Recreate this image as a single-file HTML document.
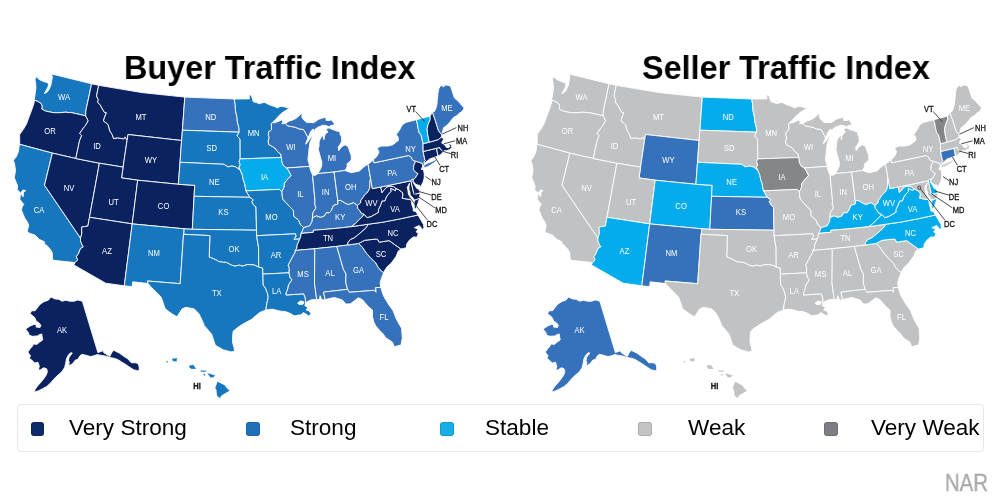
<!DOCTYPE html>
<html><head><meta charset="utf-8"><style>
html,body{margin:0;padding:0;background:#fff;-webkit-font-smoothing:antialiased;}
.t,.lt,.nar,svg{will-change:transform;}
body{width:1000px;height:500px;position:relative;overflow:hidden;font-family:"Liberation Sans",Arial,sans-serif;}
.t{position:absolute;font-weight:bold;font-size:34px;color:#000;line-height:1;white-space:nowrap;transform:scaleX(0.952);transform-origin:0 0;}
svg{position:absolute;left:0;top:0;filter:blur(0.3px);}
.lg{position:absolute;left:17px;top:404px;width:966.5px;height:47.5px;border:1px solid #e8e8e8;border-radius:4px;box-sizing:border-box;}
.sq{position:absolute;top:421.5px;width:13.5px;height:14.6px;border-radius:3px;box-sizing:border-box;border:0.8px solid rgba(0,0,0,0.12);}
.lt{position:absolute;top:417.4px;font-size:22px;line-height:1;color:#000;white-space:nowrap;transform:scaleX(1.025);transform-origin:0 0;}
.nar{position:absolute;left:945.2px;top:471.9px;font-size:23px;font-weight:normal;color:#aaaaaa;line-height:1;transform:scaleX(0.885);transform-origin:0 0;-webkit-text-stroke:0.35px #aaaaaa;}
</style></head><body>
<div class="t" style="left:124.2px;top:50px">Buyer Traffic Index</div>
<div class="t" style="left:642.3px;top:50px">Seller Traffic Index</div>
<svg width="1000" height="500" viewBox="0 0 1000 500">
<g stroke="#fff" stroke-width="0.9" stroke-linejoin="round"><path d="M34.0 99.8L34.8 96.3L35.3 92.4L35.9 88.1L35.7 83.5L35.0 79.9L35.7 76.4L37.7 78.1L40.2 80.1L43.6 81.5L46.4 82.4L48.5 83.2L48.2 86.5L46.1 90.4L44.4 93.6L46.2 92.7L48.2 91.0L49.7 88.0L50.9 85.0L51.5 81.8L52.4 77.0L51.4 73.9L91.6 83.8L85.8 111.0L85.7 115.8L70.5 112.4L70.2 112.7L65.7 112.2L58.4 112.8L53.0 112.6L45.5 111.1L41.7 109.0L42.1 106.2L41.2 103.7L38.6 101.9L34.0 99.8Z" fill="#1676be"/><path d="M19.7 144.3L19.6 134.6L23.4 129.3L26.7 123.5L28.9 117.3L32.4 108.0L34.6 100.7L34.0 99.8L38.6 101.9L41.2 103.7L42.1 106.2L41.7 109.0L45.5 111.1L53.0 112.6L58.4 112.8L65.7 112.2L70.2 112.7L70.5 112.4L85.7 115.8L88.2 120.8L85.3 125.8L83.3 128.1L79.7 133.5L81.7 135.6L79.6 140.5L75.8 158.5L52.4 153.1L19.7 144.3Z" fill="#0a2360"/><path d="M53.2 260.3L52.5 257.7L52.2 252.6L50.2 249.2L46.5 245.1L44.7 244.7L44.5 241.8L39.5 239.5L35.0 235.1L28.5 232.9L27.3 231.1L28.7 225.5L27.6 222.4L24.7 218.0L21.4 210.0L22.2 206.8L23.8 204.3L22.4 202.7L19.8 199.3L20.6 193.2L17.2 189.4L17.7 186.1L14.3 177.7L15.5 170.6L14.7 164.6L13.4 160.3L16.1 157.0L18.4 151.9L19.0 147.0L19.7 144.3L52.4 153.1L44.5 185.2L80.5 238.1L80.5 240.9L81.9 244.5L83.4 246.8L80.4 248.7L78.5 253.8L76.4 256.4L77.6 259.9L75.1 262.6L53.2 260.3Z" fill="#1676be"/><path d="M52.4 153.1L75.8 158.5L99.4 163.2L89.5 217.3L87.9 226.1L84.7 226.5L81.6 227.1L81.7 229.3L81.8 233.9L80.5 238.1L44.5 185.2L52.4 153.1Z" fill="#0a2360"/><path d="M91.6 83.8L98.7 85.3L96.5 96.1L98.3 99.5L97.7 102.5L100.2 104.8L102.3 108.8L104.6 112.5L106.4 112.7L104.3 117.9L103.5 121.0L106.9 123.5L108.2 124.7L109.8 130.9L112.0 134.2L113.6 138.6L117.3 137.8L123.8 138.9L125.1 136.9L127.1 140.1L123.1 167.1L99.4 163.2L75.8 158.5L79.6 140.5L81.7 135.6L79.7 133.5L83.3 128.1L85.3 125.8L88.2 120.8L85.7 115.8L85.8 111.0L91.6 83.8Z" fill="#0a2360"/><path d="M98.7 85.3L141.9 92.6L184.8 97.1L182.4 130.2L181.6 140.5L128.0 134.5L127.1 140.1L125.1 136.9L123.8 138.9L117.3 137.8L113.6 138.6L112.0 134.2L109.8 130.9L108.2 124.7L106.9 123.5L103.5 121.0L104.3 117.9L106.4 112.7L104.6 112.5L102.3 108.8L100.2 104.8L97.7 102.5L98.3 99.5L96.5 96.1L98.7 85.3Z" fill="#0a2360"/><path d="M127.1 140.1L128.0 134.5L181.6 140.5L180.0 162.3L178.4 184.3L137.7 180.2L121.5 177.9L123.1 167.1L127.1 140.1Z" fill="#0a2360"/><path d="M99.4 163.2L123.1 167.1L121.5 177.9L137.7 180.2L132.2 223.9L89.5 217.3L99.4 163.2Z" fill="#0a2360"/><path d="M89.5 217.3L132.2 223.9L124.3 285.8L105.7 283.2L73.8 264.9L75.1 262.6L77.6 259.9L76.4 256.4L78.5 253.8L80.4 248.7L83.4 246.8L81.9 244.5L80.5 240.9L80.5 238.1L81.8 233.9L81.7 229.3L81.6 227.1L84.7 226.5L87.9 226.1L89.5 217.3Z" fill="#0a2360"/><path d="M137.7 180.2L178.4 184.3L194.7 185.3L194.1 196.3L192.3 229.3L184.2 228.8L132.2 223.9L137.7 180.2Z" fill="#0a2360"/><path d="M132.2 223.9L184.2 228.8L183.8 234.3L183.5 234.3L180.2 283.7L147.5 281.0L148.1 283.5L132.7 281.8L132.1 286.7L124.3 285.8L132.2 223.9Z" fill="#1676be"/><path d="M184.8 97.1L234.2 99.0L235.2 104.4L235.5 110.7L237.0 117.4L237.4 122.0L238.9 127.7L239.2 132.2L182.4 130.2L184.8 97.1Z" fill="#3671bc"/><path d="M182.4 130.2L239.2 132.2L237.0 135.9L240.1 139.2L240.2 158.9L239.1 161.6L240.3 164.9L238.9 167.1L240.3 170.0L238.9 169.3L235.9 167.0L231.9 166.0L227.9 166.9L224.0 164.3L180.0 162.3L181.6 140.5L182.4 130.2Z" fill="#1676be"/><path d="M180.0 162.3L224.0 164.3L227.9 166.9L231.9 166.0L235.9 167.0L238.9 169.3L240.3 170.0L241.1 172.1L242.4 175.3L243.2 179.7L244.6 183.5L245.3 187.4L246.0 190.9L249.9 197.3L194.1 196.3L194.7 185.3L178.4 184.3L180.0 162.3Z" fill="#1676be"/><path d="M194.1 196.3L249.9 197.3L253.4 199.9L251.8 201.6L253.5 204.9L256.0 207.0L256.5 230.2L192.3 229.3L194.1 196.3Z" fill="#1676be"/><path d="M192.3 229.3L256.5 230.2L256.6 235.7L258.6 247.8L258.7 267.1L253.9 264.9L251.2 264.8L247.6 264.5L242.3 266.2L239.5 265.1L235.0 266.2L231.4 265.1L226.1 262.3L223.4 262.3L218.9 261.7L216.3 260.0L213.6 258.8L209.2 256.9L209.9 235.6L183.5 234.3L183.8 234.3L184.2 228.8L192.3 229.3Z" fill="#1676be"/><path d="M183.5 234.3L209.9 235.6L209.2 256.9L213.6 258.8L216.3 260.0L218.9 261.7L223.4 262.3L226.1 262.3L231.4 265.1L235.0 266.2L239.5 265.1L242.3 266.2L247.6 264.5L251.2 264.8L253.9 264.9L258.7 267.1L262.7 268.0L262.9 274.1L263.2 285.0L265.5 288.2L267.6 293.7L268.2 297.5L266.8 303.5L265.9 310.1L259.7 312.5L256.9 314.8L251.8 319.2L245.6 322.6L241.7 324.8L236.9 328.1L233.1 331.3L232.6 336.8L232.5 342.2L234.0 347.6L234.5 351.3L231.0 351.9L223.1 349.7L215.3 345.2L211.7 334.3L204.2 325.4L202.4 320.9L198.9 313.7L194.3 308.9L185.9 307.3L182.0 309.0L177.2 316.6L174.9 315.7L169.4 312.0L164.9 308.4L163.4 303.4L161.1 297.1L155.9 291.7L150.8 286.8L148.1 283.5L147.5 281.0L180.2 283.7L183.5 234.3Z" fill="#1676be"/><path d="M234.2 99.0L249.3 98.9L249.2 94.8L251.5 95.4L252.7 100.1L253.4 101.8L256.3 102.5L259.3 103.8L261.8 102.9L264.7 102.4L268.1 104.2L270.3 105.2L274.8 106.6L277.1 107.9L281.0 106.2L285.1 107.0L288.1 108.0L291.1 107.6L289.8 108.2L285.2 110.8L281.1 113.6L278.5 116.2L275.7 119.3L272.7 122.1L272.3 122.8L271.3 123.5L271.6 129.8L268.6 131.9L268.4 135.7L269.2 137.3L268.2 141.2L268.8 144.5L272.4 146.5L274.8 148.0L278.1 152.2L280.6 154.0L281.4 157.5L240.2 158.9L240.1 139.2L237.0 135.9L239.2 132.2L238.9 127.7L237.4 122.0L237.0 117.4L235.5 110.7L235.2 104.4L234.2 99.0Z" fill="#1676be"/><path d="M240.2 158.9L281.4 157.5L281.9 161.9L283.3 165.6L286.7 168.0L288.8 170.8L290.8 175.0L291.2 175.6L287.8 179.1L284.4 183.2L284.2 187.1L281.9 191.8L279.2 189.4L246.0 190.9L245.3 187.4L244.6 183.5L243.2 179.7L242.4 175.3L241.1 172.1L240.3 170.0L238.9 167.1L240.3 164.9L239.1 161.6L240.2 158.9Z" fill="#05acec"/><path d="M246.0 190.9L279.2 189.4L281.9 191.8L282.3 196.5L282.9 199.3L286.1 202.9L289.7 206.6L293.5 210.7L293.7 216.2L298.3 219.8L300.4 224.6L303.8 227.6L302.6 230.5L301.1 233.4L300.8 236.1L299.8 239.0L293.9 239.4L296.0 236.0L295.4 233.8L256.6 235.7L256.5 230.2L256.0 207.0L253.5 204.9L251.8 201.6L253.4 199.9L249.9 197.3L246.0 190.9Z" fill="#1676be"/><path d="M256.6 235.7L295.4 233.8L296.0 236.0L293.9 239.4L299.8 239.0L298.3 242.4L297.1 245.3L296.9 248.0L295.3 250.4L295.4 252.0L293.0 256.0L290.6 260.6L288.2 265.2L289.3 268.4L289.1 272.8L262.9 274.1L262.7 268.0L258.7 267.1L258.6 247.8L256.6 235.7Z" fill="#1676be"/><path d="M262.9 274.1L289.1 272.8L289.9 277.2L291.9 279.8L288.5 285.0L287.8 288.8L286.2 292.8L286.0 295.0L303.7 293.8L305.3 298.1L305.6 302.7L304.9 305.8L307.9 307.2L306.2 310.1L309.1 310.9L311.3 314.0L308.6 315.9L303.5 312.5L300.8 314.8L294.2 315.8L290.2 313.4L285.3 311.5L280.6 311.2L271.9 309.1L265.9 310.1L266.8 303.5L268.2 297.5L267.6 293.7L265.5 288.2L263.2 285.0L262.9 274.1Z" fill="#1676be"/><path d="M272.3 122.8L274.9 122.8L279.3 121.0L281.9 119.7L282.8 122.4L281.8 123.7L285.4 123.6L287.8 125.9L291.8 126.6L295.7 127.4L298.8 128.8L303.5 129.5L305.7 133.1L308.1 137.8L306.9 140.6L305.6 144.1L307.4 142.5L309.5 139.3L311.9 136.3L312.9 135.1L311.7 138.5L309.8 143.1L309.4 146.4L308.9 149.8L308.7 153.1L308.1 157.6L308.0 160.6L309.1 163.6L309.4 166.4L286.7 168.0L283.3 165.6L281.9 161.9L281.4 157.5L280.6 154.0L278.1 152.2L274.8 148.0L272.4 146.5L268.8 144.5L268.2 141.2L269.2 137.3L268.4 135.7L268.6 131.9L271.6 129.8L271.3 123.5L272.3 122.8Z" fill="#3671bc"/><path d="M286.7 168.0L309.4 166.4L310.9 171.1L311.7 173.2L312.5 174.8L315.0 200.6L314.8 204.5L316.0 207.9L313.0 212.4L312.4 218.0L312.2 221.3L309.6 226.0L308.3 226.3L303.8 227.6L300.4 224.6L298.3 219.8L293.7 216.2L293.5 210.7L289.7 206.6L286.1 202.9L282.9 199.3L282.3 196.5L281.9 191.8L284.2 187.1L284.4 183.2L287.8 179.1L291.2 175.6L290.8 175.0L288.8 170.8L286.7 168.0Z" fill="#3671bc"/><path d="M285.4 123.6L289.1 121.1L292.8 120.0L296.4 118.1L300.6 114.4L303.1 113.1L301.8 115.9L302.4 118.4L306.6 122.6L308.1 122.4L313.8 122.7L318.4 119.4L322.0 118.1L325.9 117.4L326.1 120.4L329.5 120.5L331.0 119.7L333.2 122.2L335.0 124.5L332.1 125.3L330.6 125.6L329.0 126.9L326.8 125.8L322.9 125.2L317.4 127.5L315.0 129.4L314.8 131.6L313.4 129.0L311.5 130.4L310.0 133.2L308.1 137.8L305.7 133.1L303.5 129.5L298.8 128.8L295.7 127.4L291.8 126.6L287.8 125.9L285.4 123.6Z" fill="#3671bc"/><path d="M318.0 173.6L320.2 169.6L321.7 166.1L321.8 162.0L320.4 157.1L318.3 149.4L319.0 146.0L319.1 141.8L320.3 138.7L323.3 135.0L323.9 139.7L324.6 135.9L325.7 133.4L328.0 132.2L326.6 130.2L326.4 128.6L329.1 127.9L331.3 129.0L336.5 130.9L339.9 131.7L340.1 134.3L341.4 136.5L341.8 141.1L340.8 143.2L338.2 147.4L338.7 150.7L341.3 147.0L345.0 144.8L348.0 146.5L351.2 155.5L351.3 159.9L348.8 162.5L347.3 163.5L347.0 166.7L345.1 170.5L334.1 172.0L318.0 173.6Z" fill="#3671bc"/><path d="M312.5 174.8L315.1 175.4L318.0 173.6L334.1 172.0L337.8 200.7L338.0 204.0L333.5 205.4L331.2 210.8L329.3 212.9L326.3 212.7L324.5 215.9L320.4 217.4L316.4 215.9L313.5 217.3L312.4 218.0L313.0 212.4L316.0 207.9L314.8 204.5L315.0 200.6L312.5 174.8Z" fill="#3671bc"/><path d="M334.1 172.0L345.1 170.5L349.0 171.9L351.6 172.7L355.7 171.8L359.5 170.9L363.1 167.5L366.0 165.3L368.0 164.1L370.6 178.6L370.0 181.4L370.0 185.0L369.6 188.7L368.0 191.8L364.7 194.9L363.0 197.6L360.9 200.2L360.5 203.0L357.4 205.5L353.6 202.7L348.3 204.6L345.2 203.3L340.5 200.4L337.8 200.7L334.1 172.0Z" fill="#3671bc"/><path d="M337.8 200.7L340.5 200.4L345.2 203.3L348.3 204.6L353.6 202.7L357.4 205.5L357.9 208.5L360.0 210.9L361.2 213.0L364.2 214.3L361.8 217.3L358.8 220.0L355.8 223.3L351.2 226.7L339.8 228.0L326.8 229.2L313.3 230.3L313.4 232.3L301.1 233.4L302.6 230.5L303.8 227.6L308.3 226.3L309.6 226.0L312.2 221.3L312.4 218.0L313.5 217.3L316.4 215.9L320.4 217.4L324.5 215.9L326.3 212.7L329.3 212.9L331.2 210.8L333.5 205.4L338.0 204.0L337.8 200.7Z" fill="#3671bc"/><path d="M351.2 226.7L368.4 224.2L366.1 227.8L361.5 231.9L357.5 235.3L354.4 237.8L350.2 239.7L347.9 242.7L348.0 245.0L336.8 246.4L313.9 248.8L295.3 250.4L296.9 248.0L297.1 245.3L298.3 242.4L299.8 239.0L300.8 236.1L301.1 233.4L313.4 232.3L313.3 230.3L326.8 229.2L339.8 228.0L351.2 226.7Z" fill="#0a2360"/><path d="M295.3 250.4L313.9 248.8L314.8 249.9L314.5 283.0L316.7 299.5L312.0 299.7L308.3 301.1L305.6 302.7L305.3 298.1L303.7 293.8L286.0 295.0L286.2 292.8L287.8 288.8L288.5 285.0L291.9 279.8L289.9 277.2L289.1 272.8L289.3 268.4L288.2 265.2L290.6 260.6L293.0 256.0L295.4 252.0L295.3 250.4Z" fill="#3671bc"/><path d="M313.9 248.8L336.8 246.4L343.4 269.3L346.1 274.0L345.8 278.5L345.9 282.9L347.6 289.3L323.5 292.1L325.2 299.8L322.9 300.0L321.4 298.9L320.1 295.7L319.5 299.6L316.7 299.5L314.5 283.0L314.8 249.9L313.9 248.8Z" fill="#3671bc"/><path d="M348.0 245.0L358.7 243.4L362.5 247.3L366.6 253.4L371.0 258.3L375.9 263.0L378.0 267.1L381.4 271.0L383.8 272.5L381.6 277.7L380.1 282.9L380.9 287.5L375.7 287.6L376.0 292.3L374.2 290.3L362.0 291.3L349.3 292.3L347.6 289.3L345.9 282.9L345.8 278.5L346.1 274.0L343.4 269.3L336.8 246.4L348.0 245.0Z" fill="#3671bc"/><path d="M325.2 299.8L323.5 292.1L347.6 289.3L349.3 292.3L362.0 291.3L374.2 290.3L376.0 292.3L375.7 287.6L380.9 287.5L382.0 291.5L383.7 296.2L387.8 303.2L393.0 310.6L396.5 319.4L401.6 328.4L402.3 338.2L401.0 345.0L394.2 346.7L392.4 342.1L385.7 337.7L383.0 333.8L380.1 330.9L375.9 326.1L373.8 322.0L372.5 316.7L372.5 310.1L368.6 306.8L362.2 299.5L358.2 297.8L355.2 300.2L350.4 303.8L346.1 304.1L342.3 299.9L334.4 297.5L328.0 298.8L325.2 299.8Z" fill="#3671bc"/><path d="M358.7 243.4L364.5 240.3L376.4 239.0L377.6 239.3L379.2 242.2L389.1 240.6L400.9 249.0L398.2 251.2L396.3 256.1L391.2 263.2L387.2 266.7L384.6 270.5L383.8 272.5L381.4 271.0L378.0 267.1L375.9 263.0L371.0 258.3L366.6 253.4L362.5 247.3L358.7 243.4Z" fill="#0a2360"/><path d="M368.4 224.2L382.8 222.2L399.9 218.9L418.0 215.0L421.2 220.5L423.5 224.5L424.1 228.5L422.3 229.3L419.2 225.5L414.3 227.7L418.2 229.1L416.1 231.8L418.3 233.6L417.0 237.2L413.5 236.9L409.6 239.9L406.8 243.9L406.2 247.9L400.9 249.0L389.1 240.6L379.2 242.2L377.6 239.3L376.4 239.0L364.5 240.3L358.7 243.4L348.0 245.0L347.9 242.7L350.2 239.7L354.4 237.8L357.5 235.3L361.5 231.9L366.1 227.8L368.4 224.2Z" fill="#0a2360"/><path d="M368.4 224.2L382.8 222.2L399.9 218.9L418.0 215.0L416.4 212.5L416.0 211.3L414.2 211.3L413.3 211.0L413.1 208.2L411.8 204.5L411.5 201.2L410.6 199.7L408.0 199.2L404.9 198.7L402.2 198.2L402.8 195.2L402.8 193.0L401.2 191.4L398.2 189.4L396.1 188.5L395.4 190.6L390.7 188.2L390.9 191.5L387.7 194.9L386.1 197.5L385.0 200.8L382.0 201.0L380.3 205.8L378.4 209.5L378.4 212.3L374.1 214.8L371.3 216.4L367.1 217.6L364.2 214.3L361.8 217.3L358.8 220.0L355.8 223.3L351.2 226.7L368.4 224.2Z" fill="#0a2360"/><path d="M419.6 197.9L416.4 199.6L414.3 200.0L414.1 204.0L414.4 207.4L415.4 209.4L416.1 208.1L418.1 203.1L419.6 197.9Z" fill="#0a2360"/><path d="M380.8 187.0L372.3 188.6L370.6 178.6L370.0 181.4L370.0 185.0L369.6 188.7L368.0 191.8L364.7 194.9L363.0 197.6L360.9 200.2L360.5 203.0L357.4 205.5L357.9 208.5L360.0 210.9L361.2 213.0L364.2 214.3L367.1 217.6L371.3 216.4L374.1 214.8L378.4 212.3L378.4 209.5L380.3 205.8L382.0 201.0L385.0 200.8L386.1 197.5L387.7 194.9L390.9 191.5L390.7 188.2L395.4 190.6L396.1 188.5L393.3 186.5L390.2 186.0L386.9 187.0L384.9 188.9L381.9 192.6L380.8 187.0Z" fill="#0a2360"/><path d="M380.8 187.0L410.9 180.8L414.0 194.3L420.1 193.0L419.6 197.9L416.4 199.6L414.3 200.0L412.3 197.1L410.2 195.3L409.9 192.0L408.9 189.4L409.0 186.0L409.6 183.0L408.7 184.7L407.2 187.5L407.9 190.2L408.4 194.0L409.7 197.1L410.6 199.7L408.0 199.2L404.9 198.7L402.2 198.2L402.8 195.2L402.8 193.0L401.2 191.4L398.2 189.4L396.1 188.5L393.3 186.5L390.2 186.0L386.9 187.0L384.9 188.9L381.9 192.6L380.8 187.0Z" fill="#0a2360"/><path d="M413.7 179.2L412.2 179.2L410.9 180.8L414.0 194.3L420.1 193.0L419.0 189.3L416.9 188.5L415.2 185.7L413.5 183.2L412.7 181.4L413.7 179.2Z" fill="#0a2360"/><path d="M368.0 164.1L371.2 161.8L373.5 159.8L374.0 162.8L408.7 155.5L411.3 157.2L412.2 159.3L413.0 160.4L415.6 161.2L414.8 163.2L413.7 165.7L413.7 167.4L413.4 169.7L414.4 170.6L416.1 172.5L418.1 173.7L416.5 175.8L415.6 177.7L413.7 179.2L412.2 179.2L410.9 180.8L380.8 187.0L372.3 188.6L370.6 178.6L368.0 164.1Z" fill="#3671bc"/><path d="M415.6 161.2L422.6 163.5L422.8 166.7L422.1 167.6L421.3 169.5L423.5 169.5L424.3 174.5L424.2 177.9L423.1 182.1L421.0 186.0L419.7 187.7L419.6 185.2L417.8 185.1L415.4 183.9L413.7 182.1L413.0 181.1L413.7 179.2L415.6 177.7L416.5 175.8L418.1 173.7L416.1 172.5L414.4 170.6L413.4 169.7L413.7 167.4L413.7 165.7L414.8 163.2L415.6 161.2Z" fill="#0a2360"/><path d="M373.5 159.8L376.6 156.7L378.5 153.5L379.0 151.8L377.0 148.1L381.1 146.1L388.3 146.0L392.9 144.7L396.3 142.0L398.4 140.4L398.0 136.6L396.0 134.8L398.2 132.1L400.5 128.2L402.1 125.0L405.9 122.4L416.3 119.7L417.4 124.1L418.1 128.4L419.2 132.7L421.0 134.8L423.1 143.7L423.1 151.5L424.8 159.7L425.6 160.4L423.9 162.1L424.7 163.1L424.0 164.9L422.8 166.7L422.6 163.5L415.6 161.2L413.0 160.4L412.2 159.3L411.3 157.2L408.7 155.5L374.0 162.8L373.5 159.8Z" fill="#3671bc"/><path d="M423.1 151.5L436.5 148.3L438.0 155.9L434.7 157.3L430.0 158.8L427.9 160.5L424.7 163.1L423.9 162.1L425.6 160.4L424.8 159.7L423.1 151.5Z" fill="#0a2360"/><path d="M436.5 148.3L439.7 147.4L440.1 148.9L442.1 150.6L443.2 152.4L442.0 153.1L441.1 154.4L438.0 155.9L436.5 148.3Z" fill="#0a2360"/><path d="M423.1 143.7L429.3 142.2L438.6 139.5L439.9 138.1L441.5 137.2L443.9 139.1L442.4 141.2L441.7 143.1L444.1 144.2L445.5 146.3L447.0 147.7L448.8 147.4L450.2 146.4L449.5 145.5L448.2 144.1L450.3 144.0L451.6 145.4L451.9 148.2L449.4 149.5L446.8 150.8L444.5 150.6L443.2 152.4L442.1 150.6L440.1 148.9L439.7 147.4L436.5 148.3L423.1 151.5L423.1 143.7Z" fill="#0a2360"/><path d="M416.3 119.7L430.1 116.1L430.2 119.6L428.0 124.7L427.1 128.9L427.6 133.9L428.7 139.3L429.3 142.2L423.1 143.7L421.0 134.8L419.2 132.7L418.1 128.4L417.4 124.1L416.3 119.7Z" fill="#05acec"/><path d="M430.1 116.1L432.4 112.2L435.3 120.4L438.3 130.2L440.4 133.2L441.8 134.8L441.5 137.2L439.9 138.1L438.6 139.5L429.3 142.2L428.7 139.3L427.6 133.9L427.1 128.9L428.0 124.7L430.2 119.6L430.1 116.1Z" fill="#0a2360"/><path d="M432.4 112.2L434.4 111.6L435.9 108.3L437.0 104.0L437.2 100.6L437.7 97.0L437.9 93.6L438.8 88.7L440.9 85.3L443.6 86.7L445.8 84.9L449.1 85.6L450.7 86.6L454.5 98.1L458.0 101.0L460.0 103.3L461.4 105.1L463.7 107.2L464.1 108.0L462.5 111.1L459.1 113.3L456.7 115.8L453.8 117.2L451.1 120.4L448.8 123.4L446.2 125.8L443.5 127.8L443.0 130.2L442.2 133.3L441.8 134.8L440.4 133.2L438.3 130.2L435.3 120.4L432.4 112.2Z" fill="#3671bc"/><path d="M423.1 167.9L427.9 166.7L433.7 163.0L437.1 160.0L435.3 159.7L432.4 161.4L428.5 162.8L425.5 164.2L423.8 165.7Z" fill="#3d74c2"/><path d="M51.0 297.0L54.9 298.9L58.8 299.3L62.0 301.2L65.8 300.3L70.0 301.2L74.1 301.2L77.9 299.9L82.4 301.3L97.9 352.6L102.9 350.7L103.7 352.6L109.8 356.5L111.6 352.8L113.7 350.2L115.6 351.2L119.7 353.3L122.4 355.3L128.1 359.1L131.2 362.7L135.7 362.8L137.8 363.4L139.1 366.0L139.3 370.9L136.5 370.4L133.7 369.8L129.7 367.2L125.7 364.5L121.6 361.9L117.3 359.3L113.6 358.2L110.2 357.6L106.7 356.4L102.7 355.6L100.2 355.2L97.3 354.6L93.0 356.1L90.4 356.5L86.9 355.5L84.6 354.9L82.0 354.3L79.8 355.9L78.1 359.2L75.1 360.3L72.7 363.6L70.3 365.1L68.5 365.0L69.3 362.6L68.5 360.4L69.2 357.1L71.6 354.1L72.2 352.9L70.5 352.8L68.3 355.2L66.5 358.6L65.7 363.3L64.6 367.5L62.3 371.2L59.5 373.8L56.6 376.3L53.7 379.3L50.1 383.5L46.6 386.5L42.4 388.8L38.5 390.7L34.1 392.3L35.2 389.2L37.9 385.6L41.2 381.9L44.0 378.4L46.2 375.0L47.3 372.1L47.0 369.8L46.4 368.6L43.7 367.8L40.1 370.1L38.4 370.0L39.3 366.3L38.0 362.2L34.8 363.0L31.8 360.2L29.4 358.3L30.5 355.5L28.2 353.0L28.3 351.3L30.4 348.6L32.7 345.8L33.1 344.1L37.0 344.3L39.6 342.1L42.7 340.0L42.2 337.0L41.7 333.9L38.3 335.2L37.3 336.0L32.3 336.3L31.4 335.9L29.2 335.2L28.2 332.2L25.5 329.0L27.8 327.6L30.5 325.8L34.1 324.4L36.4 324.5L36.0 327.0L40.0 327.5L40.9 325.2L38.7 322.6L36.3 321.3L34.7 317.6L32.7 315.7L30.0 313.7L31.6 310.8L35.1 310.7L38.4 306.4L40.5 303.9L44.5 301.4L48.3 300.2Z" fill="#0a2360"/><path d="M217.3 381.4L224.9 385.2L226.7 387.9L229.7 390.7L221.6 395.4L219.9 398.3L216.9 395.8L216.3 389.7L215.1 387.9L216.8 383.5ZM207.3 373.2L210.2 373.8L215.5 375.5L213.2 377.4L210.3 377.5L208.5 375.0ZM200.3 370.2L207.3 370.7L205.0 372.0L200.9 371.7ZM203.9 373.6L205.6 374.4L204.5 375.9L203.3 375.1ZM189.0 365.6L193.4 364.7L196.3 369.0L191.1 369.0L189.3 367.2ZM172.0 358.6L177.2 358.0L176.6 361.7L172.5 361.1ZM166.2 360.5L168.5 361.7L166.7 362.9Z" fill="#1676be" stroke-width="0.3"/><path d="M20.7 192.7L23.2 189.9L25.7 190.6L23.5 192.3L23.1 196.8L21.5 194.6Z" fill="#fff"/><path d="M297.6 303.0L300.8 300.8L304.2 302.0L302.9 304.3L299.1 304.6Z" fill="#fff"/></g><g transform="scale(0.860,1)" font-family="Liberation Sans, sans-serif" font-size="8.90" fill="#fff" text-anchor="middle"><text x="74.42" y="100.06">WA</text><text x="58.14" y="134.06">OR</text><text x="163.95" y="120.06">MT</text><text x="112.79" y="149.06">ID</text><text x="175.58" y="163.06">WY</text><text x="80.23" y="191.06">NV</text><text x="132.09" y="205.06">UT</text><text x="190.23" y="209.06">CO</text><text x="45.35" y="213.46">CA</text><text x="245.12" y="120.06">ND</text><text x="246.05" y="151.36">SD</text><text x="249.07" y="184.76">NE</text><text x="259.77" y="215.06">KS</text><text x="294.88" y="135.66">MN</text><text x="307.67" y="180.06">IA</text><text x="338.37" y="149.66">WI</text><text x="386.05" y="161.46">MI</text><text x="349.30" y="197.06">IL</text><text x="378.60" y="195.36">IN</text><text x="407.91" y="190.36">OH</text><text x="315.70" y="219.86">MO</text><text x="395.58" y="219.86">KY</text><text x="431.98" y="205.86">WV</text><text x="459.30" y="212.26">VA</text><text x="455.81" y="176.36">PA</text><text x="477.33" y="152.06">NY</text><text x="381.40" y="241.46">TN</text><text x="456.98" y="235.66">NC</text><text x="443.02" y="256.66">SC</text><text x="320.93" y="258.36">AR</text><text x="352.33" y="277.06">MS</text><text x="383.72" y="276.06">AL</text><text x="416.98" y="273.46">GA</text><text x="321.86" y="294.26">LA</text><text x="446.51" y="320.46">FL</text><text x="124.42" y="254.06">AZ</text><text x="179.07" y="256.06">NM</text><text x="272.09" y="252.06">OK</text><text x="252.09" y="296.06">TX</text><text x="72.09" y="333.36">AK</text><text x="519.77" y="111.06">ME</text></g><g stroke="#2a2a2a" stroke-width="0.85"><line x1="415.6" y1="111.4" x2="424.6" y2="121.6"/><line x1="456.4" y1="127.6" x2="442.0" y2="134.2"/><line x1="455.2" y1="140.8" x2="443.8" y2="143.8"/><line x1="451.0" y1="153.6" x2="441.5" y2="151.0"/><line x1="440.0" y1="165.4" x2="434.9" y2="156.9"/><line x1="431.5" y1="180.7" x2="425.5" y2="176.5"/><line x1="431.5" y1="195.2" x2="417.5" y2="191.0"/><line x1="434.9" y1="207.9" x2="413.5" y2="193.5"/><line x1="427.2" y1="219.8" x2="402.9" y2="188.8"/><circle cx="401.8" cy="187.7" r="1.6" fill="none"/></g><g transform="scale(0.860,1)" font-family="Liberation Sans, sans-serif" font-size="8.70" fill="#141414" stroke="#141414" stroke-width="0.32" text-anchor="middle"><text x="478.37" y="111.76">VT</text><text x="538.37" y="130.66">NH</text><text x="536.74" y="144.06">MA</text><text x="528.49" y="157.76">RI</text><text x="516.51" y="171.86">CT</text><text x="507.09" y="185.46">NJ</text><text x="507.56" y="199.56">DE</text><text x="513.02" y="212.66">MD</text><text x="502.33" y="227.06">DC</text><text x="229.07" y="389.06" font-weight="bold">HI</text></g>
<g stroke="#fff" stroke-width="0.9" stroke-linejoin="round"><path d="M551.5 99.8L552.3 96.3L552.8 92.4L553.4 88.1L553.2 83.5L552.5 79.9L553.2 76.4L555.2 78.1L557.7 80.1L561.1 81.5L563.9 82.4L566.0 83.2L565.7 86.5L563.6 90.4L561.9 93.6L563.7 92.7L565.7 91.0L567.2 88.0L568.4 85.0L569.0 81.8L569.9 77.0L568.9 73.9L609.1 83.8L603.3 111.0L603.2 115.8L588.0 112.4L587.7 112.7L583.2 112.2L575.9 112.8L570.5 112.6L563.0 111.1L559.2 109.0L559.6 106.2L558.7 103.7L556.1 101.9L551.5 99.8Z" fill="#c1c2c4"/><path d="M537.2 144.3L537.1 134.6L540.9 129.3L544.2 123.5L546.4 117.3L549.9 108.0L552.1 100.7L551.5 99.8L556.1 101.9L558.7 103.7L559.6 106.2L559.2 109.0L563.0 111.1L570.5 112.6L575.9 112.8L583.2 112.2L587.7 112.7L588.0 112.4L603.2 115.8L605.7 120.8L602.8 125.8L600.8 128.1L597.2 133.5L599.2 135.6L597.1 140.5L593.3 158.5L569.9 153.1L537.2 144.3Z" fill="#c1c2c4"/><path d="M570.7 260.3L570.0 257.7L569.7 252.6L567.7 249.2L564.0 245.1L562.2 244.7L562.0 241.8L557.0 239.5L552.5 235.1L546.0 232.9L544.8 231.1L546.2 225.5L545.1 222.4L542.2 218.0L538.9 210.0L539.7 206.8L541.3 204.3L539.9 202.7L537.3 199.3L538.1 193.2L534.7 189.4L535.2 186.1L531.8 177.7L533.0 170.6L532.2 164.6L530.9 160.3L533.6 157.0L535.9 151.9L536.5 147.0L537.2 144.3L569.9 153.1L562.0 185.2L598.0 238.1L598.0 240.9L599.4 244.5L600.9 246.8L597.9 248.7L596.0 253.8L593.9 256.4L595.1 259.9L592.6 262.6L570.7 260.3Z" fill="#c1c2c4"/><path d="M569.9 153.1L593.3 158.5L616.9 163.2L607.0 217.3L605.4 226.1L602.2 226.5L599.1 227.1L599.2 229.3L599.3 233.9L598.0 238.1L562.0 185.2L569.9 153.1Z" fill="#c1c2c4"/><path d="M609.1 83.8L616.2 85.3L614.0 96.1L615.8 99.5L615.2 102.5L617.7 104.8L619.8 108.8L622.1 112.5L623.9 112.7L621.8 117.9L621.0 121.0L624.4 123.5L625.7 124.7L627.3 130.9L629.5 134.2L631.1 138.6L634.8 137.8L641.3 138.9L642.6 136.9L644.6 140.1L640.6 167.1L616.9 163.2L593.3 158.5L597.1 140.5L599.2 135.6L597.2 133.5L600.8 128.1L602.8 125.8L605.7 120.8L603.2 115.8L603.3 111.0L609.1 83.8Z" fill="#c1c2c4"/><path d="M616.2 85.3L659.4 92.6L702.3 97.1L699.9 130.2L699.1 140.5L645.5 134.5L644.6 140.1L642.6 136.9L641.3 138.9L634.8 137.8L631.1 138.6L629.5 134.2L627.3 130.9L625.7 124.7L624.4 123.5L621.0 121.0L621.8 117.9L623.9 112.7L622.1 112.5L619.8 108.8L617.7 104.8L615.2 102.5L615.8 99.5L614.0 96.1L616.2 85.3Z" fill="#c1c2c4"/><path d="M644.6 140.1L645.5 134.5L699.1 140.5L697.5 162.3L695.9 184.3L655.2 180.2L639.0 177.9L640.6 167.1L644.6 140.1Z" fill="#3671bc"/><path d="M616.9 163.2L640.6 167.1L639.0 177.9L655.2 180.2L649.7 223.9L607.0 217.3L616.9 163.2Z" fill="#c1c2c4"/><path d="M607.0 217.3L649.7 223.9L641.8 285.8L623.2 283.2L591.3 264.9L592.6 262.6L595.1 259.9L593.9 256.4L596.0 253.8L597.9 248.7L600.9 246.8L599.4 244.5L598.0 240.9L598.0 238.1L599.3 233.9L599.2 229.3L599.1 227.1L602.2 226.5L605.4 226.1L607.0 217.3Z" fill="#05acec"/><path d="M655.2 180.2L695.9 184.3L712.2 185.3L711.6 196.3L709.8 229.3L701.7 228.8L649.7 223.9L655.2 180.2Z" fill="#05acec"/><path d="M649.7 223.9L701.7 228.8L701.3 234.3L701.0 234.3L697.7 283.7L665.0 281.0L665.6 283.5L650.2 281.8L649.6 286.7L641.8 285.8L649.7 223.9Z" fill="#3671bc"/><path d="M702.3 97.1L751.7 99.0L752.7 104.4L753.0 110.7L754.5 117.4L754.9 122.0L756.4 127.7L756.7 132.2L699.9 130.2L702.3 97.1Z" fill="#05acec"/><path d="M699.9 130.2L756.7 132.2L754.5 135.9L757.6 139.2L757.7 158.9L756.6 161.6L757.8 164.9L756.4 167.1L757.8 170.0L756.4 169.3L753.4 167.0L749.4 166.0L745.4 166.9L741.5 164.3L697.5 162.3L699.1 140.5L699.9 130.2Z" fill="#c1c2c4"/><path d="M697.5 162.3L741.5 164.3L745.4 166.9L749.4 166.0L753.4 167.0L756.4 169.3L757.8 170.0L758.6 172.1L759.9 175.3L760.7 179.7L762.1 183.5L762.8 187.4L763.5 190.9L767.4 197.3L711.6 196.3L712.2 185.3L695.9 184.3L697.5 162.3Z" fill="#05acec"/><path d="M711.6 196.3L767.4 197.3L770.9 199.9L769.3 201.6L771.0 204.9L773.5 207.0L774.0 230.2L709.8 229.3L711.6 196.3Z" fill="#3671bc"/><path d="M709.8 229.3L774.0 230.2L774.1 235.7L776.1 247.8L776.2 267.1L771.4 264.9L768.7 264.8L765.1 264.5L759.8 266.2L757.0 265.1L752.5 266.2L748.9 265.1L743.6 262.3L740.9 262.3L736.4 261.7L733.8 260.0L731.1 258.8L726.7 256.9L727.4 235.6L701.0 234.3L701.3 234.3L701.7 228.8L709.8 229.3Z" fill="#c1c2c4"/><path d="M701.0 234.3L727.4 235.6L726.7 256.9L731.1 258.8L733.8 260.0L736.4 261.7L740.9 262.3L743.6 262.3L748.9 265.1L752.5 266.2L757.0 265.1L759.8 266.2L765.1 264.5L768.7 264.8L771.4 264.9L776.2 267.1L780.2 268.0L780.4 274.1L780.7 285.0L783.0 288.2L785.1 293.7L785.7 297.5L784.3 303.5L783.4 310.1L777.2 312.5L774.4 314.8L769.3 319.2L763.1 322.6L759.2 324.8L754.4 328.1L750.6 331.3L750.1 336.8L750.0 342.2L751.5 347.6L752.0 351.3L748.5 351.9L740.6 349.7L732.8 345.2L729.2 334.3L721.7 325.4L719.9 320.9L716.4 313.7L711.8 308.9L703.4 307.3L699.5 309.0L694.7 316.6L692.4 315.7L686.9 312.0L682.4 308.4L680.9 303.4L678.6 297.1L673.4 291.7L668.3 286.8L665.6 283.5L665.0 281.0L697.7 283.7L701.0 234.3Z" fill="#c1c2c4"/><path d="M751.7 99.0L766.8 98.9L766.7 94.8L769.0 95.4L770.2 100.1L770.9 101.8L773.8 102.5L776.8 103.8L779.3 102.9L782.2 102.4L785.6 104.2L787.8 105.2L792.3 106.6L794.6 107.9L798.5 106.2L802.6 107.0L805.6 108.0L808.6 107.6L807.3 108.2L802.7 110.8L798.6 113.6L796.0 116.2L793.2 119.3L790.2 122.1L789.8 122.8L788.8 123.5L789.1 129.8L786.1 131.9L785.9 135.7L786.7 137.3L785.7 141.2L786.3 144.5L789.9 146.5L792.3 148.0L795.6 152.2L798.1 154.0L798.9 157.5L757.7 158.9L757.6 139.2L754.5 135.9L756.7 132.2L756.4 127.7L754.9 122.0L754.5 117.4L753.0 110.7L752.7 104.4L751.7 99.0Z" fill="#c1c2c4"/><path d="M757.7 158.9L798.9 157.5L799.4 161.9L800.8 165.6L804.2 168.0L806.3 170.8L808.3 175.0L808.7 175.6L805.3 179.1L801.9 183.2L801.7 187.1L799.4 191.8L796.7 189.4L763.5 190.9L762.8 187.4L762.1 183.5L760.7 179.7L759.9 175.3L758.6 172.1L757.8 170.0L756.4 167.1L757.8 164.9L756.6 161.6L757.7 158.9Z" fill="#84878a"/><path d="M763.5 190.9L796.7 189.4L799.4 191.8L799.8 196.5L800.4 199.3L803.6 202.9L807.2 206.6L811.0 210.7L811.2 216.2L815.8 219.8L817.9 224.6L821.3 227.6L820.1 230.5L818.6 233.4L818.3 236.1L817.3 239.0L811.4 239.4L813.5 236.0L812.9 233.8L774.1 235.7L774.0 230.2L773.5 207.0L771.0 204.9L769.3 201.6L770.9 199.9L767.4 197.3L763.5 190.9Z" fill="#c1c2c4"/><path d="M774.1 235.7L812.9 233.8L813.5 236.0L811.4 239.4L817.3 239.0L815.8 242.4L814.6 245.3L814.4 248.0L812.8 250.4L812.9 252.0L810.5 256.0L808.1 260.6L805.7 265.2L806.8 268.4L806.6 272.8L780.4 274.1L780.2 268.0L776.2 267.1L776.1 247.8L774.1 235.7Z" fill="#c1c2c4"/><path d="M780.4 274.1L806.6 272.8L807.4 277.2L809.4 279.8L806.0 285.0L805.3 288.8L803.7 292.8L803.5 295.0L821.2 293.8L822.8 298.1L823.1 302.7L822.4 305.8L825.4 307.2L823.7 310.1L826.6 310.9L828.8 314.0L826.1 315.9L821.0 312.5L818.3 314.8L811.7 315.8L807.7 313.4L802.8 311.5L798.1 311.2L789.4 309.1L783.4 310.1L784.3 303.5L785.7 297.5L785.1 293.7L783.0 288.2L780.7 285.0L780.4 274.1Z" fill="#c1c2c4"/><path d="M789.8 122.8L792.4 122.8L796.8 121.0L799.4 119.7L800.3 122.4L799.3 123.7L802.9 123.6L805.3 125.9L809.3 126.6L813.2 127.4L816.3 128.8L821.0 129.5L823.2 133.1L825.6 137.8L824.4 140.6L823.1 144.1L824.9 142.5L827.0 139.3L829.4 136.3L830.4 135.1L829.2 138.5L827.3 143.1L826.9 146.4L826.4 149.8L826.2 153.1L825.6 157.6L825.5 160.6L826.6 163.6L826.9 166.4L804.2 168.0L800.8 165.6L799.4 161.9L798.9 157.5L798.1 154.0L795.6 152.2L792.3 148.0L789.9 146.5L786.3 144.5L785.7 141.2L786.7 137.3L785.9 135.7L786.1 131.9L789.1 129.8L788.8 123.5L789.8 122.8Z" fill="#c1c2c4"/><path d="M804.2 168.0L826.9 166.4L828.4 171.1L829.2 173.2L830.0 174.8L832.5 200.6L832.3 204.5L833.5 207.9L830.5 212.4L829.9 218.0L829.7 221.3L827.1 226.0L825.8 226.3L821.3 227.6L817.9 224.6L815.8 219.8L811.2 216.2L811.0 210.7L807.2 206.6L803.6 202.9L800.4 199.3L799.8 196.5L799.4 191.8L801.7 187.1L801.9 183.2L805.3 179.1L808.7 175.6L808.3 175.0L806.3 170.8L804.2 168.0Z" fill="#c1c2c4"/><path d="M802.9 123.6L806.6 121.1L810.3 120.0L813.9 118.1L818.1 114.4L820.6 113.1L819.3 115.9L819.9 118.4L824.1 122.6L825.6 122.4L831.3 122.7L835.9 119.4L839.5 118.1L843.4 117.4L843.6 120.4L847.0 120.5L848.5 119.7L850.7 122.2L852.5 124.5L849.6 125.3L848.1 125.6L846.5 126.9L844.3 125.8L840.4 125.2L834.9 127.5L832.5 129.4L832.3 131.6L830.9 129.0L829.0 130.4L827.5 133.2L825.6 137.8L823.2 133.1L821.0 129.5L816.3 128.8L813.2 127.4L809.3 126.6L805.3 125.9L802.9 123.6Z" fill="#c1c2c4"/><path d="M835.5 173.6L837.7 169.6L839.2 166.1L839.3 162.0L837.9 157.1L835.8 149.4L836.5 146.0L836.6 141.8L837.8 138.7L840.8 135.0L841.4 139.7L842.1 135.9L843.2 133.4L845.5 132.2L844.1 130.2L843.9 128.6L846.6 127.9L848.8 129.0L854.0 130.9L857.4 131.7L857.6 134.3L858.9 136.5L859.3 141.1L858.3 143.2L855.7 147.4L856.2 150.7L858.8 147.0L862.5 144.8L865.5 146.5L868.7 155.5L868.8 159.9L866.3 162.5L864.8 163.5L864.5 166.7L862.6 170.5L851.6 172.0L835.5 173.6Z" fill="#c1c2c4"/><path d="M830.0 174.8L832.6 175.4L835.5 173.6L851.6 172.0L855.3 200.7L855.5 204.0L851.0 205.4L848.7 210.8L846.8 212.9L843.8 212.7L842.0 215.9L837.9 217.4L833.9 215.9L831.0 217.3L829.9 218.0L830.5 212.4L833.5 207.9L832.3 204.5L832.5 200.6L830.0 174.8Z" fill="#c1c2c4"/><path d="M851.6 172.0L862.6 170.5L866.5 171.9L869.1 172.7L873.2 171.8L877.0 170.9L880.6 167.5L883.5 165.3L885.5 164.1L888.1 178.6L887.5 181.4L887.5 185.0L887.1 188.7L885.5 191.8L882.2 194.9L880.5 197.6L878.4 200.2L878.0 203.0L874.9 205.5L871.1 202.7L865.8 204.6L862.7 203.3L858.0 200.4L855.3 200.7L851.6 172.0Z" fill="#c1c2c4"/><path d="M855.3 200.7L858.0 200.4L862.7 203.3L865.8 204.6L871.1 202.7L874.9 205.5L875.4 208.5L877.5 210.9L878.7 213.0L881.7 214.3L879.3 217.3L876.3 220.0L873.3 223.3L868.7 226.7L857.3 228.0L844.3 229.2L830.8 230.3L830.9 232.3L818.6 233.4L820.1 230.5L821.3 227.6L825.8 226.3L827.1 226.0L829.7 221.3L829.9 218.0L831.0 217.3L833.9 215.9L837.9 217.4L842.0 215.9L843.8 212.7L846.8 212.9L848.7 210.8L851.0 205.4L855.5 204.0L855.3 200.7Z" fill="#05acec"/><path d="M868.7 226.7L885.9 224.2L883.6 227.8L879.0 231.9L875.0 235.3L871.9 237.8L867.7 239.7L865.4 242.7L865.5 245.0L854.3 246.4L831.4 248.8L812.8 250.4L814.4 248.0L814.6 245.3L815.8 242.4L817.3 239.0L818.3 236.1L818.6 233.4L830.9 232.3L830.8 230.3L844.3 229.2L857.3 228.0L868.7 226.7Z" fill="#c1c2c4"/><path d="M812.8 250.4L831.4 248.8L832.3 249.9L832.0 283.0L834.2 299.5L829.5 299.7L825.8 301.1L823.1 302.7L822.8 298.1L821.2 293.8L803.5 295.0L803.7 292.8L805.3 288.8L806.0 285.0L809.4 279.8L807.4 277.2L806.6 272.8L806.8 268.4L805.7 265.2L808.1 260.6L810.5 256.0L812.9 252.0L812.8 250.4Z" fill="#c1c2c4"/><path d="M831.4 248.8L854.3 246.4L860.9 269.3L863.6 274.0L863.3 278.5L863.4 282.9L865.1 289.3L841.0 292.1L842.7 299.8L840.4 300.0L838.9 298.9L837.6 295.7L837.0 299.6L834.2 299.5L832.0 283.0L832.3 249.9L831.4 248.8Z" fill="#c1c2c4"/><path d="M865.5 245.0L876.2 243.4L880.0 247.3L884.1 253.4L888.5 258.3L893.4 263.0L895.5 267.1L898.9 271.0L901.3 272.5L899.1 277.7L897.6 282.9L898.4 287.5L893.2 287.6L893.5 292.3L891.7 290.3L879.5 291.3L866.8 292.3L865.1 289.3L863.4 282.9L863.3 278.5L863.6 274.0L860.9 269.3L854.3 246.4L865.5 245.0Z" fill="#c1c2c4"/><path d="M842.7 299.8L841.0 292.1L865.1 289.3L866.8 292.3L879.5 291.3L891.7 290.3L893.5 292.3L893.2 287.6L898.4 287.5L899.5 291.5L901.2 296.2L905.3 303.2L910.5 310.6L914.0 319.4L919.1 328.4L919.8 338.2L918.5 345.0L911.7 346.7L909.9 342.1L903.2 337.7L900.5 333.8L897.6 330.9L893.4 326.1L891.3 322.0L890.0 316.7L890.0 310.1L886.1 306.8L879.7 299.5L875.7 297.8L872.7 300.2L867.9 303.8L863.6 304.1L859.8 299.9L851.9 297.5L845.5 298.8L842.7 299.8Z" fill="#c1c2c4"/><path d="M876.2 243.4L882.0 240.3L893.9 239.0L895.1 239.3L896.7 242.2L906.6 240.6L918.4 249.0L915.7 251.2L913.8 256.1L908.7 263.2L904.7 266.7L902.1 270.5L901.3 272.5L898.9 271.0L895.5 267.1L893.4 263.0L888.5 258.3L884.1 253.4L880.0 247.3L876.2 243.4Z" fill="#c1c2c4"/><path d="M885.9 224.2L900.3 222.2L917.4 218.9L935.5 215.0L938.7 220.5L941.0 224.5L941.6 228.5L939.8 229.3L936.7 225.5L931.8 227.7L935.7 229.1L933.6 231.8L935.8 233.6L934.5 237.2L931.0 236.9L927.1 239.9L924.3 243.9L923.7 247.9L918.4 249.0L906.6 240.6L896.7 242.2L895.1 239.3L893.9 239.0L882.0 240.3L876.2 243.4L865.5 245.0L865.4 242.7L867.7 239.7L871.9 237.8L875.0 235.3L879.0 231.9L883.6 227.8L885.9 224.2Z" fill="#05acec"/><path d="M885.9 224.2L900.3 222.2L917.4 218.9L935.5 215.0L933.9 212.5L933.5 211.3L931.7 211.3L930.8 211.0L930.6 208.2L929.3 204.5L929.0 201.2L928.1 199.7L925.5 199.2L922.4 198.7L919.7 198.2L920.3 195.2L920.3 193.0L918.7 191.4L915.7 189.4L913.6 188.5L912.9 190.6L908.2 188.2L908.4 191.5L905.2 194.9L903.6 197.5L902.5 200.8L899.5 201.0L897.8 205.8L895.9 209.5L895.9 212.3L891.6 214.8L888.8 216.4L884.6 217.6L881.7 214.3L879.3 217.3L876.3 220.0L873.3 223.3L868.7 226.7L885.9 224.2Z" fill="#05acec"/><path d="M937.1 197.9L933.9 199.6L931.8 200.0L931.6 204.0L931.9 207.4L932.9 209.4L933.6 208.1L935.6 203.1L937.1 197.9Z" fill="#05acec"/><path d="M898.3 187.0L889.8 188.6L888.1 178.6L887.5 181.4L887.5 185.0L887.1 188.7L885.5 191.8L882.2 194.9L880.5 197.6L878.4 200.2L878.0 203.0L874.9 205.5L875.4 208.5L877.5 210.9L878.7 213.0L881.7 214.3L884.6 217.6L888.8 216.4L891.6 214.8L895.9 212.3L895.9 209.5L897.8 205.8L899.5 201.0L902.5 200.8L903.6 197.5L905.2 194.9L908.4 191.5L908.2 188.2L912.9 190.6L913.6 188.5L910.8 186.5L907.7 186.0L904.4 187.0L902.4 188.9L899.4 192.6L898.3 187.0Z" fill="#05acec"/><path d="M898.3 187.0L928.4 180.8L931.5 194.3L937.6 193.0L937.1 197.9L933.9 199.6L931.8 200.0L929.8 197.1L927.7 195.3L927.4 192.0L926.4 189.4L926.5 186.0L927.1 183.0L926.2 184.7L924.7 187.5L925.4 190.2L925.9 194.0L927.2 197.1L928.1 199.7L925.5 199.2L922.4 198.7L919.7 198.2L920.3 195.2L920.3 193.0L918.7 191.4L915.7 189.4L913.6 188.5L910.8 186.5L907.7 186.0L904.4 187.0L902.4 188.9L899.4 192.6L898.3 187.0Z" fill="#c1c2c4"/><path d="M931.2 179.2L929.7 179.2L928.4 180.8L931.5 194.3L937.6 193.0L936.5 189.3L934.4 188.5L932.7 185.7L931.0 183.2L930.2 181.4L931.2 179.2Z" fill="#05acec"/><path d="M885.5 164.1L888.7 161.8L891.0 159.8L891.5 162.8L926.2 155.5L928.8 157.2L929.7 159.3L930.5 160.4L933.1 161.2L932.3 163.2L931.2 165.7L931.2 167.4L930.9 169.7L931.9 170.6L933.6 172.5L935.6 173.7L934.0 175.8L933.1 177.7L931.2 179.2L929.7 179.2L928.4 180.8L898.3 187.0L889.8 188.6L888.1 178.6L885.5 164.1Z" fill="#c1c2c4"/><path d="M933.1 161.2L940.1 163.5L940.3 166.7L939.6 167.6L938.8 169.5L941.0 169.5L941.8 174.5L941.7 177.9L940.6 182.1L938.5 186.0L937.2 187.7L937.1 185.2L935.3 185.1L932.9 183.9L931.2 182.1L930.5 181.1L931.2 179.2L933.1 177.7L934.0 175.8L935.6 173.7L933.6 172.5L931.9 170.6L930.9 169.7L931.2 167.4L931.2 165.7L932.3 163.2L933.1 161.2Z" fill="#c1c2c4"/><path d="M891.0 159.8L894.1 156.7L896.0 153.5L896.5 151.8L894.5 148.1L898.6 146.1L905.8 146.0L910.4 144.7L913.8 142.0L915.9 140.4L915.5 136.6L913.5 134.8L915.7 132.1L918.0 128.2L919.6 125.0L923.4 122.4L933.8 119.7L934.9 124.1L935.6 128.4L936.7 132.7L938.5 134.8L940.6 143.7L940.6 151.5L942.3 159.7L943.1 160.4L941.4 162.1L942.2 163.1L941.5 164.9L940.3 166.7L940.1 163.5L933.1 161.2L930.5 160.4L929.7 159.3L928.8 157.2L926.2 155.5L891.5 162.8L891.0 159.8Z" fill="#c1c2c4"/><path d="M940.6 151.5L954.0 148.3L955.5 155.9L952.2 157.3L947.5 158.8L945.4 160.5L942.2 163.1L941.4 162.1L943.1 160.4L942.3 159.7L940.6 151.5Z" fill="#3671bc"/><path d="M954.0 148.3L957.2 147.4L957.6 148.9L959.6 150.6L960.7 152.4L959.5 153.1L958.6 154.4L955.5 155.9L954.0 148.3Z" fill="#c1c2c4"/><path d="M940.6 143.7L946.8 142.2L956.1 139.5L957.4 138.1L959.0 137.2L961.4 139.1L959.9 141.2L959.2 143.1L961.6 144.2L963.0 146.3L964.5 147.7L966.3 147.4L967.7 146.4L967.0 145.5L965.7 144.1L967.8 144.0L969.1 145.4L969.4 148.2L966.9 149.5L964.3 150.8L962.0 150.6L960.7 152.4L959.6 150.6L957.6 148.9L957.2 147.4L954.0 148.3L940.6 151.5L940.6 143.7Z" fill="#c1c2c4"/><path d="M933.8 119.7L947.6 116.1L947.7 119.6L945.5 124.7L944.6 128.9L945.1 133.9L946.2 139.3L946.8 142.2L940.6 143.7L938.5 134.8L936.7 132.7L935.6 128.4L934.9 124.1L933.8 119.7Z" fill="#84878a"/><path d="M947.6 116.1L949.9 112.2L952.8 120.4L955.8 130.2L957.9 133.2L959.3 134.8L959.0 137.2L957.4 138.1L956.1 139.5L946.8 142.2L946.2 139.3L945.1 133.9L944.6 128.9L945.5 124.7L947.7 119.6L947.6 116.1Z" fill="#c1c2c4"/><path d="M949.9 112.2L951.9 111.6L953.4 108.3L954.5 104.0L954.7 100.6L955.2 97.0L955.4 93.6L956.3 88.7L958.4 85.3L961.1 86.7L963.3 84.9L966.6 85.6L968.2 86.6L972.0 98.1L975.5 101.0L977.5 103.3L978.9 105.1L981.2 107.2L981.6 108.0L980.0 111.1L976.6 113.3L974.2 115.8L971.3 117.2L968.6 120.4L966.3 123.4L963.7 125.8L961.0 127.8L960.5 130.2L959.7 133.3L959.3 134.8L957.9 133.2L955.8 130.2L952.8 120.4L949.9 112.2Z" fill="#c1c2c4"/><path d="M940.6 167.9L945.4 166.7L951.2 163.0L954.6 160.0L952.8 159.7L949.9 161.4L946.0 162.8L943.0 164.2L941.3 165.7Z" fill="#d0d0d0"/><path d="M568.5 297.0L572.4 298.9L576.3 299.3L579.5 301.2L583.3 300.3L587.5 301.2L591.6 301.2L595.4 299.9L599.9 301.3L615.4 352.6L620.4 350.7L621.2 352.6L627.3 356.5L629.1 352.8L631.2 350.2L633.1 351.2L637.2 353.3L639.9 355.3L645.6 359.1L648.7 362.7L653.2 362.8L655.3 363.4L656.6 366.0L656.8 370.9L654.0 370.4L651.2 369.8L647.2 367.2L643.2 364.5L639.1 361.9L634.8 359.3L631.1 358.2L627.7 357.6L624.2 356.4L620.2 355.6L617.7 355.2L614.8 354.6L610.5 356.1L607.9 356.5L604.4 355.5L602.1 354.9L599.5 354.3L597.3 355.9L595.6 359.2L592.6 360.3L590.2 363.6L587.8 365.1L586.0 365.0L586.8 362.6L586.0 360.4L586.7 357.1L589.1 354.1L589.7 352.9L588.0 352.8L585.8 355.2L584.0 358.6L583.2 363.3L582.1 367.5L579.8 371.2L577.0 373.8L574.1 376.3L571.2 379.3L567.6 383.5L564.1 386.5L559.9 388.8L556.0 390.7L551.6 392.3L552.7 389.2L555.4 385.6L558.7 381.9L561.5 378.4L563.7 375.0L564.8 372.1L564.5 369.8L563.9 368.6L561.2 367.8L557.6 370.1L555.9 370.0L556.8 366.3L555.5 362.2L552.3 363.0L549.3 360.2L546.9 358.3L548.0 355.5L545.7 353.0L545.8 351.3L547.9 348.6L550.2 345.8L550.6 344.1L554.5 344.3L557.1 342.1L560.2 340.0L559.7 337.0L559.2 333.9L555.8 335.2L554.8 336.0L549.8 336.3L548.9 335.9L546.7 335.2L545.7 332.2L543.0 329.0L545.3 327.6L548.0 325.8L551.6 324.4L553.9 324.5L553.5 327.0L557.5 327.5L558.4 325.2L556.2 322.6L553.8 321.3L552.2 317.6L550.2 315.7L547.5 313.7L549.1 310.8L552.6 310.7L555.9 306.4L558.0 303.9L562.0 301.4L565.8 300.2Z" fill="#3671bc"/><path d="M734.8 381.4L742.4 385.2L744.2 387.9L747.2 390.7L739.1 395.4L737.4 398.3L734.4 395.8L733.8 389.7L732.6 387.9L734.3 383.5ZM724.8 373.2L727.7 373.8L733.0 375.5L730.7 377.4L727.8 377.5L726.0 375.0ZM717.8 370.2L724.8 370.7L722.5 372.0L718.4 371.7ZM721.4 373.6L723.1 374.4L722.0 375.9L720.8 375.1ZM706.5 365.6L710.9 364.7L713.8 369.0L708.6 369.0L706.8 367.2ZM689.5 358.6L694.7 358.0L694.1 361.7L690.0 361.1ZM683.7 360.5L686.0 361.7L684.2 362.9Z" fill="#c1c2c4" stroke-width="0.3"/><path d="M538.2 192.7L540.7 189.9L543.2 190.6L541.0 192.3L540.6 196.8L539.0 194.6Z" fill="#fff"/><path d="M815.1 303.0L818.3 300.8L821.7 302.0L820.4 304.3L816.6 304.6Z" fill="#fff"/></g><g transform="scale(0.860,1)" font-family="Liberation Sans, sans-serif" font-size="8.90" fill="#fff" text-anchor="middle"><text x="676.16" y="100.06">WA</text><text x="659.88" y="134.06">OR</text><text x="765.70" y="120.06">MT</text><text x="714.53" y="149.06">ID</text><text x="777.33" y="163.06">WY</text><text x="681.98" y="191.06">NV</text><text x="733.84" y="205.06">UT</text><text x="791.98" y="209.06">CO</text><text x="647.09" y="213.46">CA</text><text x="846.86" y="120.06">ND</text><text x="847.79" y="151.36">SD</text><text x="850.81" y="184.76">NE</text><text x="861.51" y="215.06">KS</text><text x="896.63" y="135.66">MN</text><text x="909.42" y="180.06">IA</text><text x="940.12" y="149.66">WI</text><text x="987.79" y="161.46">MI</text><text x="951.05" y="197.06">IL</text><text x="980.35" y="195.36">IN</text><text x="1009.65" y="190.36">OH</text><text x="917.44" y="219.86">MO</text><text x="997.33" y="219.86">KY</text><text x="1033.72" y="205.86">WV</text><text x="1061.05" y="212.26">VA</text><text x="1057.56" y="176.36">PA</text><text x="1079.07" y="152.06">NY</text><text x="983.14" y="241.46">TN</text><text x="1058.72" y="235.66">NC</text><text x="1044.77" y="256.66">SC</text><text x="922.67" y="258.36">AR</text><text x="954.07" y="277.06">MS</text><text x="985.47" y="276.06">AL</text><text x="1018.72" y="273.46">GA</text><text x="923.60" y="294.26">LA</text><text x="1048.26" y="320.46">FL</text><text x="726.16" y="254.06">AZ</text><text x="780.81" y="256.06">NM</text><text x="873.84" y="252.06">OK</text><text x="853.84" y="296.06">TX</text><text x="673.84" y="333.36">AK</text><text x="1121.51" y="111.06">ME</text></g><g stroke="#2a2a2a" stroke-width="0.85"><line x1="933.1" y1="111.4" x2="942.1" y2="121.6"/><line x1="973.9" y1="127.6" x2="959.5" y2="134.2"/><line x1="972.7" y1="140.8" x2="961.3" y2="143.8"/><line x1="968.5" y1="153.6" x2="959.0" y2="151.0"/><line x1="957.5" y1="165.4" x2="952.4" y2="156.9"/><line x1="949.0" y1="180.7" x2="943.0" y2="176.5"/><line x1="949.0" y1="195.2" x2="935.0" y2="191.0"/><line x1="952.4" y1="207.9" x2="931.0" y2="193.5"/><line x1="944.7" y1="219.8" x2="920.4" y2="188.8"/><circle cx="919.3" cy="187.7" r="1.6" fill="none"/></g><g transform="scale(0.860,1)" font-family="Liberation Sans, sans-serif" font-size="8.70" fill="#141414" stroke="#141414" stroke-width="0.32" text-anchor="middle"><text x="1080.12" y="111.76">VT</text><text x="1140.12" y="130.66">NH</text><text x="1138.49" y="144.06">MA</text><text x="1130.23" y="157.76">RI</text><text x="1118.26" y="171.86">CT</text><text x="1108.84" y="185.46">NJ</text><text x="1109.30" y="199.56">DE</text><text x="1114.77" y="212.66">MD</text><text x="1104.07" y="227.06">DC</text><text x="830.81" y="389.06" font-weight="bold">HI</text></g>
</svg>
<div class="lg"></div>
<div class="sq" style="left:30.5px;background:#0d2a6b"></div><div class="lt" style="left:69.3px">Very Strong</div>
<div class="sq" style="left:246px;background:#1e70b8"></div><div class="lt" style="left:289.5px">Strong</div>
<div class="sq" style="left:440px;background:#16aee8"></div><div class="lt" style="left:484.5px">Stable</div>
<div class="sq" style="left:638px;background:#c4c4c4"></div><div class="lt" style="left:687.8px">Weak</div>
<div class="sq" style="left:824px;background:#7b7f85"></div><div class="lt" style="left:871.2px">Very Weak</div>
<div class="nar">NAR</div>
</body></html>
